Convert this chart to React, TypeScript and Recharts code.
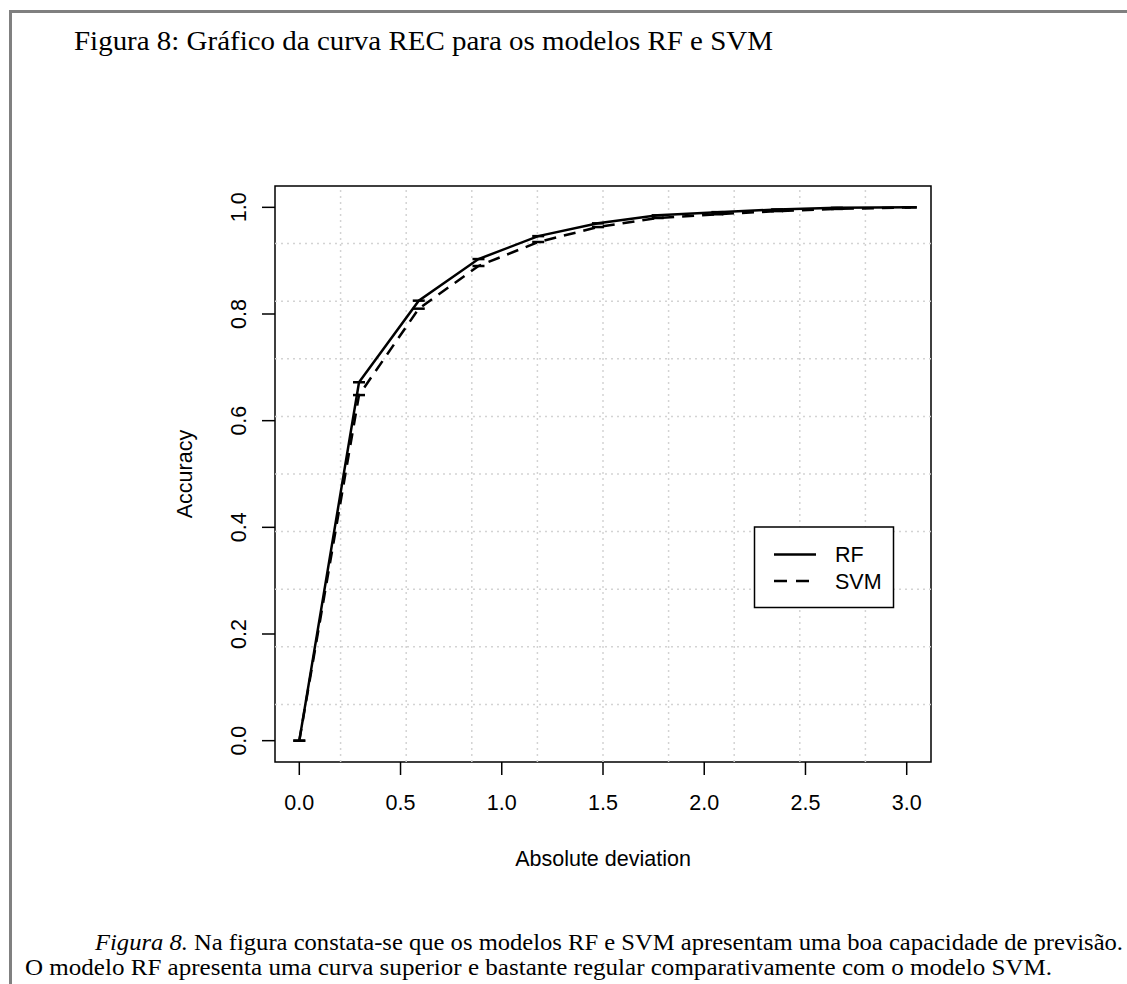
import React from 'react';
import { LineChart, Line, XAxis, YAxis, ReferenceLine, ReferenceArea } from 'recharts';

const deviation = [0, 0.295, 0.59, 0.885, 1.18, 1.475, 1.77, 2.065, 2.36, 2.655, 3.02];
const rfAccuracy = [0, 0.672, 0.825, 0.903, 0.946, 0.97, 0.985, 0.991, 0.996, 0.999, 1.0];
const svmAccuracy = [0, 0.648, 0.81, 0.89, 0.935, 0.963, 0.98, 0.987, 0.993, 0.997, 1.0];
const xTicks = [0, 0.5, 1, 1.5, 2, 2.5, 3];
const yTicks = [0, 0.2, 0.4, 0.6, 0.8, 1.0];
const xGrid = [0.204, 0.528, 0.852, 1.176, 1.5, 1.824, 2.148, 2.472, 2.796];
const yGrid = [0.068, 0.176, 0.284, 0.392, 0.5, 0.608, 0.716, 0.824, 0.932];
const seriesNames = ['RF', 'SVM'];

const data = deviation.map((d, i) => ({ x: d, rf: rfAccuracy[i], svm: svmAccuracy[i] }));

const SANS = 'Liberation Sans, Arial, Helvetica, sans-serif';
const SERIF = 'Liberation Serif, Times New Roman, serif';

const CapDot = (props: any) => {
  const { cx, cy } = props;
  if (cx == null || cy == null) return null;
  return <line x1={cx - 6} x2={cx + 6} y1={cy} y2={cy} stroke="#000" strokeWidth={2.5} />;
};

const YTick = (props: any) => {
  const { x, y, payload } = props;
  return (
    <text x={x} y={y} transform={`rotate(-90, ${x}, ${y})`} textAnchor="middle"
      fontFamily={SANS} fontSize={21.5} fill="#000">
      {Number(payload.value).toFixed(1)}
    </text>
  );
};

export default function App() {
  return (
    <div style={{ position: 'absolute', left: 0, top: 0, width: 1127, height: 984, background: '#fff', overflow: 'hidden' }}>
      <svg width={1127} height={984} style={{ position: 'absolute', left: 0, top: 0 }}>
        <line x1={10.5} y1={11.5} x2={1127} y2={11.5} stroke="#808080" strokeWidth={3} />
        <line x1={10.5} y1={10} x2={10.5} y2={984} stroke="#808080" strokeWidth={3} />
        <text x={74} y={50} fontFamily={SERIF} fontSize={28} fill="#000" textLength={699} lengthAdjust="spacingAndGlyphs">Figura 8: Gráfico da curva REC para os modelos RF e SVM</text>
        <text x={603} y={866} textAnchor="middle" fontFamily={SANS} fontSize={21.5} fill="#000">Absolute deviation</text>
        <text x={192} y={474} transform="rotate(-90, 192, 474)" textAnchor="middle" fontFamily={SANS} fontSize={21.5} fill="#000">Accuracy</text>
        <text x={95} y={950} fontFamily={SERIF} fontSize={24} fill="#000" textLength={1028} lengthAdjust="spacingAndGlyphs">
          <tspan fontStyle="italic">Figura 8.</tspan> Na figura constata-se que os modelos RF e SVM apresentam uma boa capacidade de previsão.
        </text>
        <text x={25} y={975} fontFamily={SERIF} fontSize={24} fill="#000" textLength={1027} lengthAdjust="spacingAndGlyphs">
          O modelo RF apresenta uma curva superior e bastante regular comparativamente com o modelo SVM.
        </text>
      </svg>
      <div style={{ position: 'absolute', left: 0, top: 0 }}>
        <LineChart width={1127} height={984} data={data}
          margin={{ top: 186, left: 215, right: 196, bottom: 162 }}>
          <XAxis type="number" dataKey="x" domain={[-0.12, 3.12]} ticks={xTicks} allowDataOverflow
            height={60} interval={0} axisLine={false} tickSize={13} tickMargin={20}
            tickLine={{ stroke: '#000', strokeWidth: 1.5 }}
            tickFormatter={(v: number) => v.toFixed(1)}
            tick={{ fontFamily: SANS, fontSize: 21.5, fill: '#000' }} />
          <YAxis type="number" domain={[-0.04, 1.04]} ticks={yTicks} allowDataOverflow
            width={60} interval={0} axisLine={false} tickSize={13} tickMargin={16}
            tickLine={{ stroke: '#000', strokeWidth: 1.5 }}
            tick={<YTick />} />
          {xGrid.map((g) => (
            <ReferenceLine key={'vx' + g} x={g} stroke="#d3d3d3" strokeWidth={1.5} strokeDasharray="2 4" />
          ))}
          {yGrid.map((g) => (
            <ReferenceLine key={'hy' + g} y={g} stroke="#d3d3d3" strokeWidth={1.5} strokeDasharray="2 4" />
          ))}
          <ReferenceArea x1={-0.12} x2={3.12} y1={-0.04} y2={1.04} fill="none" stroke="#000" strokeWidth={1.5} fillOpacity={0} />
          <Line type="linear" dataKey="svm" name={seriesNames[1]} stroke="#000" strokeWidth={2.5}
            strokeDasharray="12 8" dot={<CapDot />} activeDot={false} isAnimationActive={false} />
          <Line type="linear" dataKey="rf" name={seriesNames[0]} stroke="#000" strokeWidth={2.5}
            dot={<CapDot />} activeDot={false} isAnimationActive={false} />
        </LineChart>
      </div>
      <svg width={1127} height={984} style={{ position: 'absolute', left: 0, top: 0, pointerEvents: 'none' }}>
        <rect x={754.5} y={527} width={139} height={80.5} fill="#fff" stroke="#000" strokeWidth={1.5} />
        <line x1={774} x2={816} y1={554.5} y2={554.5} stroke="#000" strokeWidth={2.5} />
        <line x1={774} x2={816} y1={581} y2={581} stroke="#000" strokeWidth={2.5} strokeDasharray="13 9" />
        <text x={835} y={562} fontFamily={SANS} fontSize={21.5} fill="#000">{seriesNames[0]}</text>
        <text x={835} y={589} fontFamily={SANS} fontSize={21.5} fill="#000">{seriesNames[1]}</text>
      </svg>
    </div>
  );
}
